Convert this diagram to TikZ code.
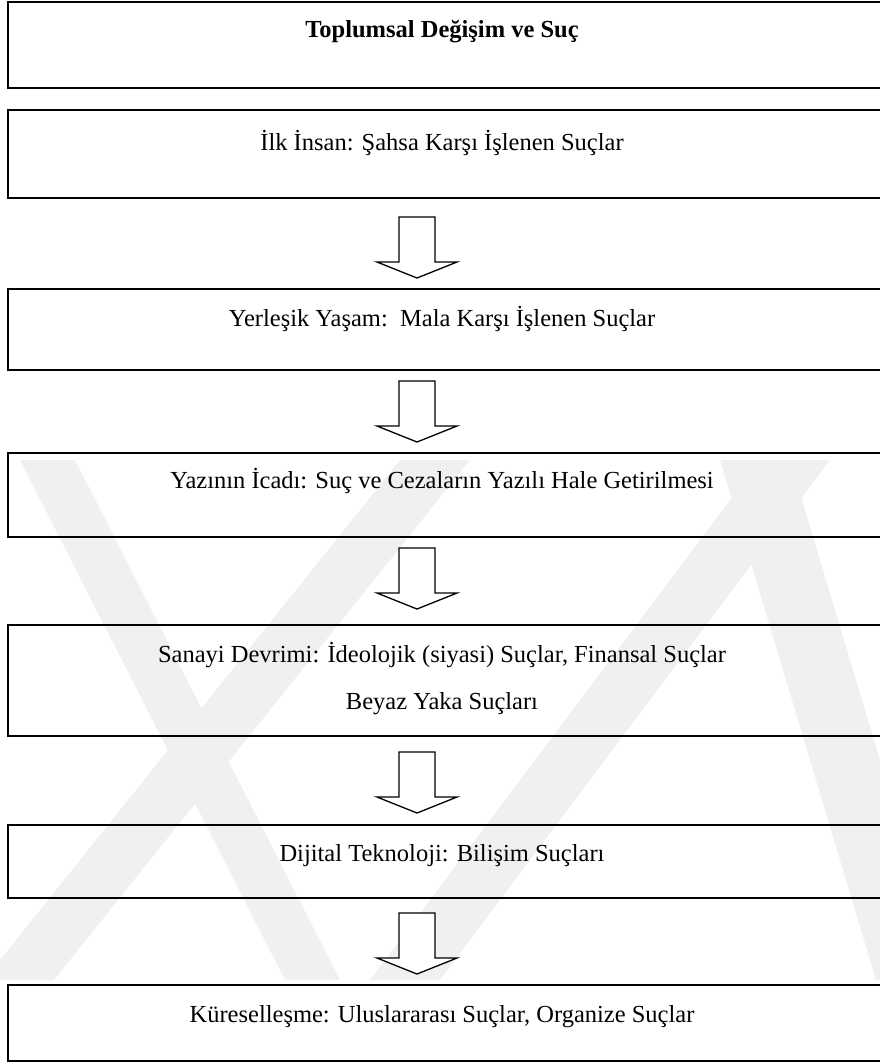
\documentclass[tikz,border=0pt]{standalone}
\usepackage{fontspec}
\setmainfont{Liberation Serif}
\usetikzlibrary{calc}
\begin{document}
\begin{tikzpicture}[x=1pt,y=-1pt,
  framebox/.style={draw=black, line width=1.8pt, anchor=north west, minimum width=874pt, inner sep=0pt, outer sep=0pt},
  label/.style={anchor=base, font=\fontsize{24.5}{29}\selectfont, inner sep=0pt},
  blockarrow/.style={draw=black, fill=white, line width=1.3pt, line join=miter},
  wmark/.style={fill=black!6, draw=none}
]
\useasboundingbox (0,0) rectangle (879,1063);
% faint watermark bands
\fill[wmark] (20,460) -- (75,460) -- (340,980) -- (285,980) -- cycle;
\fill[wmark] (400,460) -- (470,460) -- (54,980) -- (-16,980) -- cycle;
\fill[wmark] (760,460) -- (830,460) -- (440,980) -- (370,980) -- cycle;
\fill[wmark] (720,460) -- (790,460) -- (946,980) -- (876,980) -- cycle;
% boxes
\node[framebox, minimum height=86pt] (b1) at (8,2) {};
\node[framebox, minimum height=88pt] (b2) at (8,110) {};
\node[framebox, minimum height=81pt] (b3) at (8,289) {};
\node[framebox, minimum height=84pt] (b4) at (8,453) {};
\node[framebox, minimum height=111pt] (b5) at (8,625) {};
\node[framebox, minimum height=73pt] (b6) at (8,825) {};
\node[framebox, minimum height=76pt] (b7) at (8,985) {};
% texts
\node[label, font=\fontsize{24.5}{29}\selectfont\bfseries] (t1) at ($(b1.north)+(-3,35)$) {Toplumsal Değişim ve Suç};
\node[label] (t2) at ($(b2.north)+(-3,40)$) {İlk İnsan: Şahsa Karşı İşlenen Suçlar};
\node[label] (t3) at ($(b3.north)+(-3,37)$) {Yerleşik Yaşam:\ \ Mala Karşı İşlenen Suçlar};
\node[label] (t4) at ($(b4.north)+(-3,35)$) {Yazının İcadı: Suç ve Cezaların Yazılı Hale Getirilmesi};
\node[label] (t5) at ($(b5.north)+(-3,37)$) {Sanayi Devrimi: İdeolojik (siyasi) Suçlar, Finansal Suçlar};
\node[label] (t5b) at ($(t5.base)+(0,47)$) {Beyaz Yaka Suçları};
\node[label] (t6) at ($(b6.north)+(-3,36)$) {Dijital Teknoloji: Bilişim Suçları};
\node[label] (t7) at ($(b7.north)+(-3,37)$) {Küreselleşme: Uluslararası Suçlar, Organize Suçlar};
% arrows
\coordinate (a1) at ($(b2.south)+(-28,19)$);
\coordinate (a2) at ($(b3.south)+(-28,11)$);
\coordinate (a3) at ($(b4.south)+(-28,11)$);
\coordinate (a4) at ($(b5.south)+(-28,16)$);
\coordinate (a5) at ($(b6.south)+(-28,15)$);
\foreach \a in {a1,a2,a3,a4,a5}{
  \draw[blockarrow] (\a) ++(-18,0) -- ++(0,45) -- ++(-22,0) -- ++(40,16) -- ++(40,-16) -- ++(-22,0) -- ++(0,-45) -- cycle;
}
\end{tikzpicture}
\end{document}
